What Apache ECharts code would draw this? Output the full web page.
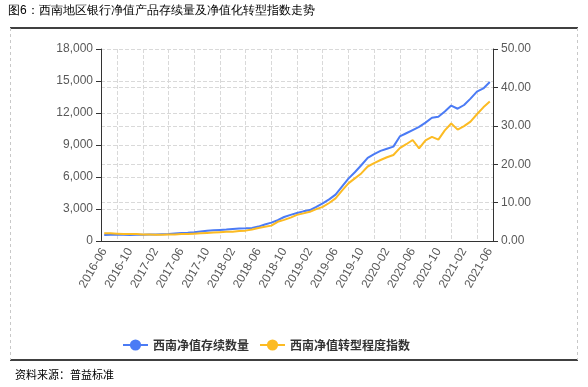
<!DOCTYPE html>
<html>
<head>
<meta charset="utf-8">
<script src="https://cdn.jsdelivr.net/npm/echarts@6/dist/echarts.min.js"></script>
<style>
html,body{margin:0;padding:0;background:#fff;}
#c{width:588px;height:387px;}
</style>
</head>
<body>
<div id="c"></div>
<script>
// Months 2016-06 .. 2021-06
const months = [];
for (let y = 2016, m = 6; y < 2021 || (y === 2021 && m <= 6); ) {
  months.push(y + '-' + String(m).padStart(2, '0'));
  m++; if (m > 12) { m = 1; y++; }
}
const seriesNames = ['西南净值存续数量', '西南净值转型程度指数'];
const stockCount = [
  560, 580, 580, 580, 570, 580, 590, 600, 600, 630,
  660, 700, 740, 780, 830, 900, 950, 1000, 1040, 1080,
  1130, 1180, 1200, 1230, 1350, 1550, 1720, 1950, 2250, 2450,
  2620, 2780, 2900, 3200, 3530, 3900, 4350, 5100, 5850, 6450,
  7100, 7800, 8150, 8450, 8650, 8850, 9800, 10100, 10400, 10700,
  11100, 11550, 11650, 12150, 12700, 12400, 12750, 13350, 14000, 14300,
  14900
];
const transIndex = [
  2.0, 2.0, 1.9, 1.8, 1.8, 1.8, 1.7, 1.7, 1.6, 1.6,
  1.7, 1.7, 1.8, 1.8, 1.9, 2.0, 2.1, 2.2, 2.3, 2.4,
  2.4, 2.6, 2.7, 3.0, 3.4, 3.7, 4.0, 5.0, 5.5, 6.1,
  6.8, 7.2, 7.6, 8.3, 8.9, 9.9, 11.1, 13.1, 15.0, 16.3,
  17.6, 19.4, 20.3, 21.1, 21.8, 22.4, 24.2, 25.2, 26.3, 24.1,
  26.2, 27.1, 26.4, 28.8, 30.6, 29.0, 29.9, 31.1, 33.0, 34.8,
  36.3
];
// half-month helper categories for the vertical grid lines
const halfCats = [];
for (let j = 0; j < months.length * 2; j++) halfCats.push('h' + j);

const labelColor = '#595959';
const axisColor = '#333';
const gridColor = '#d9d9d9';
const font = 'Arial, "Liberation Sans", "Noto Sans CJK SC", sans-serif';

const chart = echarts.init(document.getElementById('c'), null, {renderer: 'canvas'});
chart.setOption({
  animation: false,
  textStyle: {fontFamily: font},
  color: ['#4b7bf5', '#fcbb23'],
  grid: {left: 101, right: 95, top: 49, bottom: 146, containLabel: false},
  legend: {
    left: 117, top: 334, itemGap: 10, itemWidth: 25, itemHeight: 14,
    textStyle: {fontSize: 12, color: '#333', fontWeight: 'bold', fontFamily: '"Noto Sans CJK SC", serif'},
    data: seriesNames
  },
  xAxis: [{
    type: 'category', data: months, boundaryGap: true,
    axisLine: {lineStyle: {color: axisColor}},
    axisTick: {alignWithLabel: true, interval: 3, length: 5, lineStyle: {color: axisColor}},
    axisLabel: {interval: 3, rotate: 60, color: labelColor, fontSize: 12, margin: 8},
    splitLine: {show: false}
  }, {
    type: 'category', data: halfCats, boundaryGap: true, position: 'bottom',
    axisLine: {show: false}, axisTick: {show: false}, axisLabel: {show: false},
    splitLine: {show: true, interval: function (j) { return j >= 5 && (j - 5) % 8 === 0; },
      lineStyle: {color: gridColor, type: 'dashed'}}
  }],
  yAxis: [{
    type: 'value', min: 0, max: 18000, interval: 3000, position: 'left',
    axisLine: {show: true, lineStyle: {color: axisColor}},
    axisTick: {show: true, length: 5, lineStyle: {color: axisColor}},
    axisLabel: {color: labelColor, fontSize: 12, margin: 8,
      formatter: v => v.toLocaleString('en-US')},
    splitLine: {show: true, lineStyle: {color: gridColor, type: 'dashed'}}
  }, {
    type: 'value', min: 0, max: 50, interval: 10, position: 'right',
    axisLine: {show: true, lineStyle: {color: axisColor}},
    axisTick: {show: true, length: 5, lineStyle: {color: axisColor}},
    axisLabel: {color: labelColor, fontSize: 12, margin: 8, formatter: v => v.toFixed(2)},
    splitLine: {show: true, lineStyle: {color: gridColor, type: 'dashed'}}
  }],
  series: [{
    name: seriesNames[0], type: 'line', xAxisIndex: 0, yAxisIndex: 0,
    data: stockCount, symbol: 'circle', symbolSize: 8, showSymbol: false,
    lineStyle: {width: 2}
  }, {
    name: seriesNames[1], type: 'line', xAxisIndex: 0, yAxisIndex: 1,
    data: transIndex, symbol: 'circle', symbolSize: 8, showSymbol: false,
    lineStyle: {width: 2}
  }],
  graphic: [
    {type: 'text', left: 8, top: 5, style: {text: '图6：西南地区银行净值产品存续量及净值化转型指数走势',
      fontSize: 12, fill: '#000', font: '12px "Noto Sans CJK SC", sans-serif'}},
    {type: 'line', shape: {x1: 10, y1: 28, x2: 578, y2: 28}, style: {stroke: '#000', lineWidth: 1.5}},
    {type: 'line', shape: {x1: 10, y1: 360, x2: 578, y2: 360}, style: {stroke: '#000', lineWidth: 1.5}},
    {type: 'line', shape: {x1: 10.5, y1: 28, x2: 10.5, y2: 360}, style: {stroke: '#c8c8c8', lineWidth: 1, lineDash: [3, 3]}},
    {type: 'line', shape: {x1: 577.5, y1: 28, x2: 577.5, y2: 360}, style: {stroke: '#c8c8c8', lineWidth: 1, lineDash: [3, 3]}},
    {type: 'text', left: 15, top: 369, style: {text: '资料来源：普益标准',
      fill: '#000', font: '11px "Noto Sans CJK SC", sans-serif'}}
  ]
});
</script>
</body>
</html>
